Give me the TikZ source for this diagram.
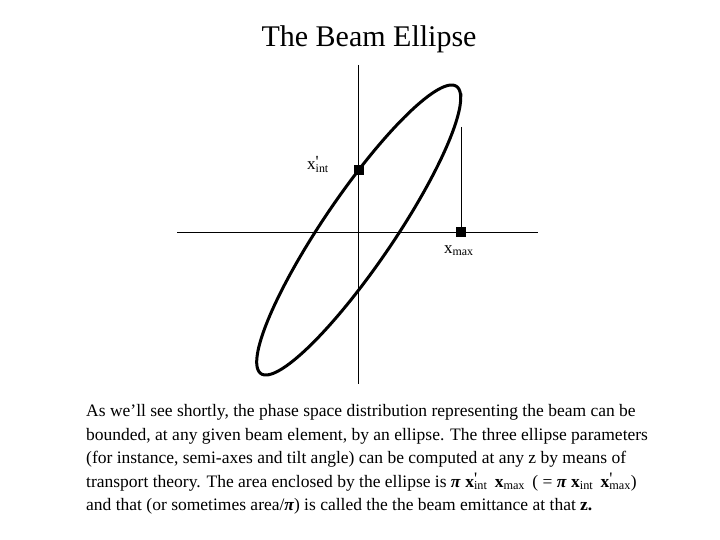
\documentclass[tikz,border=0pt]{standalone}
\usepackage{fontspec}
\setmainfont{Liberation Serif}
\newcommand\prsub[1]{\rlap{\raisebox{.12em}{\textquotesingle}}\textsubscript{#1}}
\newcommand\bpi{{\bfseries\itshape π}}
\tikzset{
  axis/.style={line width=0.9pt},
  ellipsecurve/.style={line width=3pt},
  marker/.style={rectangle, fill=black, minimum size=10pt, inner sep=0pt},
  lab/.style={anchor=base west, inner sep=0pt, font=\fontsize{17}{17}\selectfont},
  bodyline/.style={anchor=base west, inner sep=0pt, font=\fontsize{17.5}{20}\selectfont},
}
\begin{document}
\begin{tikzpicture}[x=1pt,y=-1pt]
\useasboundingbox (0,0) rectangle (720,540);
\node[anchor=base, inner sep=0pt, font=\fontsize{30}{30}\selectfont] (title) at (369,46.5) {The Beam Ellipse};
% axes
\coordinate (yt) at (358.7,65);
\coordinate (yb) at (358.7,384);
\coordinate (xl) at (177,232);
\coordinate (xr) at (538,232);
\draw[axis] (yt) -- (yb);
\draw[axis] (xl) -- (xr);
% ellipse
\draw[ellipsecurve] plot[domain=0:360,samples=180,smooth cycle] ({358.7+102*cos(\x)}, {230-(132*cos(\x)-60*sin(\x))});
% markers
\node[marker] (mint) at (358.7,170) {};
\node[marker] (mmax) at (461,232) {};
\coordinate (vtop) at (461,127);
\draw[axis] (vtop) -- (mmax.north);
\node[lab] (lint) at (307,169.5) {x\prsub{int}};
\node[lab] (lmax) at (444,253) {x\textsubscript{max}};
% body text
\node[bodyline] (l1) at (86,416.5) {As we’ll see shortly, the phase space distribution representing the beam can be};
\node[bodyline] (l2) at (86,440) {bounded, at any given beam element, by an ellipse. The three ellipse parameters};
\node[bodyline] (l3) at (86,463.5) {(for instance, semi-axes and tilt angle) can be computed at any z by means of};
\node[bodyline] (l4) at (86,487) {transport theory. The area enclosed by the ellipse is \bpi{} \textbf{x}\prsub{int}\, \textbf{x}\textsubscript{max}\, ( = \bpi{} \textbf{x}\textsubscript{int}\, \textbf{x}\prsub{max})};
\node[bodyline] (l5) at (86,510.5) {and that (or sometimes area/\bpi) is called the the beam emittance at that \textbf{z.}};
\end{tikzpicture}
\end{document}
